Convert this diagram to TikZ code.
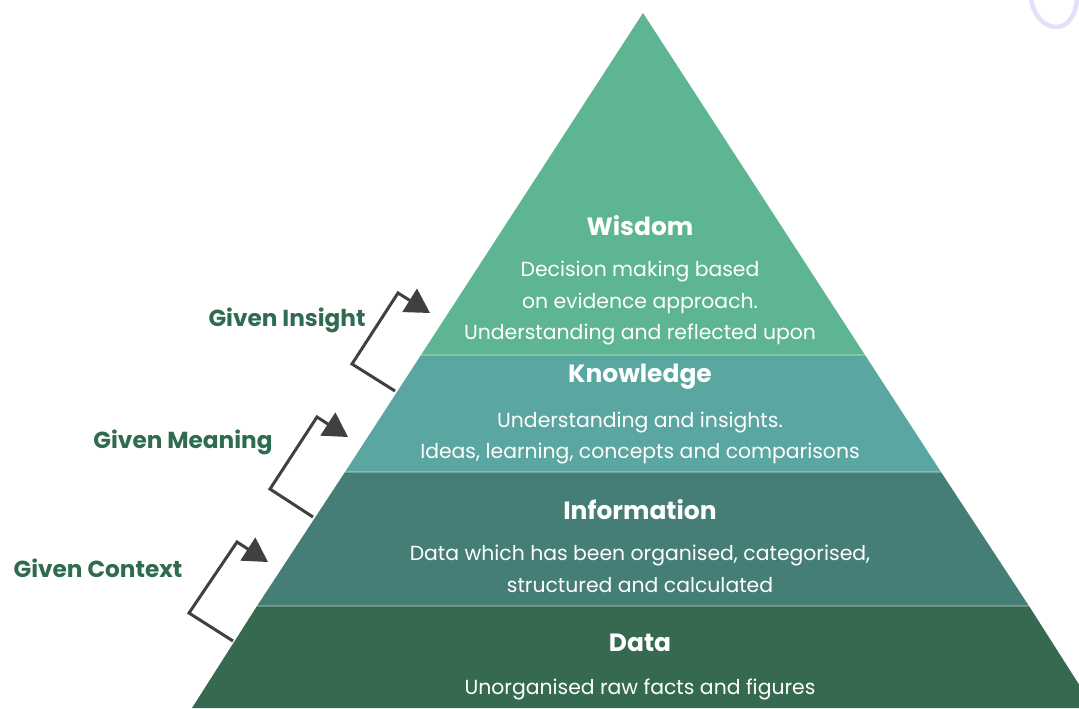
\documentclass[tikz,border=0pt]{standalone}
\usepackage{fontspec}
\setmainfont{Poppins}
\usetikzlibrary{arrows.meta}
\definecolor{wisdomgreen}{HTML}{5DB591}
\definecolor{knowteal}{HTML}{5AA6A0}
\definecolor{infoteal}{HTML}{457E77}
\definecolor{datagreen}{HTML}{356A51}
\definecolor{labelgreen}{HTML}{2F6B4F}
\definecolor{bracketgray}{HTML}{404040}
\definecolor{curllilac}{HTML}{E6DFF8}
\begin{document}
\begin{tikzpicture}[x=0.02cm,y=-0.02cm,
    title node/.style={text=white,font=\bfseries\fontsize{14.2}{17}\selectfont},
    body node/.style={text=white,align=center,font=\fontsize{11.6}{18.1}\selectfont},
    given node/.style={text=labelgreen,font=\bfseries\fontsize{13.2}{15}\selectfont},
    bracket/.style={draw=bracketgray,line width=1.7pt,-{Triangle[length=0.48cm,width=0.54cm]}}]
                    \useasboundingbox (0,0) rectangle (1079,708);

                    % pyramid bands
                    \fill[datagreen] (192,708) -- (257,606) -- (1029,606) -- (1094,708) -- cycle;
                    \fill[infoteal] (257,606) -- (345,472) -- (941,472) -- (1029,606) -- cycle;
                    \fill[knowteal] (345,472) -- (421,355) -- (865,355) -- (941,472) -- cycle;
                    \fill[wisdomgreen] (421,355) -- (643,13) -- (865,355) -- cycle;
                    \draw[white,opacity=0.25,line width=0.6pt] (257,606) -- (1029,606);
                    \draw[white,opacity=0.25,line width=0.6pt] (345,472) -- (941,472);
                    \draw[white,opacity=0.25,line width=0.6pt] (421,355) -- (865,355);

                    % curl in the corner
                    \draw[curllilac,line width=2.6pt,line cap=round] (1031,0) .. controls (1036,22) and (1050,30) .. (1062,26) .. controls (1072,22) and (1076,10) .. (1077,0);

                    \node[title node] at (640, 226) (wisdom) {Wisdom};
                    \node[body node] at (640, 303) (wisdomtext) {Decision making based\\on evidence approach.\\Understanding and reflected upon};
                    \node[title node] at (640, 377) (knowledge) {Knowledge};
                    \node[body node] at (640, 438) (knowledgetext) {Understanding and insights.\\Ideas, learning, concepts and comparisons};
                    \node[title node] at (640, 510) (information) {Information};
                    \node[body node] at (640, 569) (informationtext) {Data which has been organised, categorised,\\structured and calculated};
                    \node[title node] at (640, 643) (data) {Data};
                    \node[body node] at (640, 689) (datatext) {Unorganised raw facts and figures};

                    \node[given node] at (287, 320) (insight) {Given Insight};
                    \node[given node] at (183, 442) (meaning) {Given Meaning};
                    \node[given node] at (98, 568) (context) {Given Context};

                    \coordinate (i0) at (395, 391);
                    \coordinate (i1) at (352, 364);
                    \coordinate (i2) at (398, 293);
                    \coordinate (i3) at (430, 313);
                    \coordinate (m0) at (313, 517);
                    \coordinate (m1) at (270, 489);
                    \coordinate (m2) at (317, 417);
                    \coordinate (m3) at (348, 437);
                    \coordinate (c0) at (233, 641);
                    \coordinate (c1) at (189, 613);
                    \coordinate (c2) at (237, 542);
                    \coordinate (c3) at (268, 562);

                    \draw[bracket] (i0) -- (i1) -- (i2) -- (i3);
                    \draw[bracket] (m0) -- (m1) -- (m2) -- (m3);
                    \draw[bracket] (c0) -- (c1) -- (c2) -- (c3);
                \end{tikzpicture}
\end{document}
